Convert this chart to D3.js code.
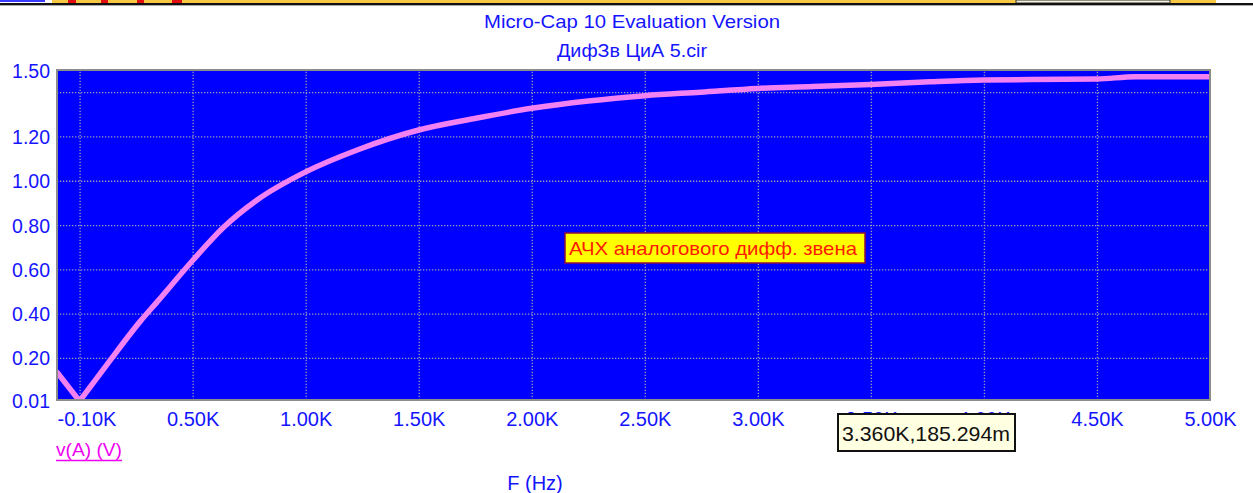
<!DOCTYPE html>
<html>
<head>
<meta charset="utf-8">
<script src="https://cdn.jsdelivr.net/npm/d3@7"></script>
<style>
  html, body { margin: 0; padding: 0; background: #ffffff; }
  svg { display: block; }
  text { font-family: "Liberation Sans", Arial, sans-serif; }
</style>
</head>
<body>
<svg id="chart" width="1253" height="493"></svg>
<script>
// ---- data ----
const freqHz = [-100, 0, 121, 268, 342, 500, 637, 785, 1000, 1228, 1500, 1753, 2000, 2250, 2500, 2747, 3000, 3244, 3500, 3760, 4000, 4500, 4670, 5000];
const magV   = [0.135, 0.005, 0.17, 0.365, 0.452, 0.64, 0.79, 0.913, 1.04, 1.139, 1.229, 1.282, 1.327, 1.36, 1.384, 1.40, 1.417, 1.425, 1.435, 1.447, 1.455, 1.459, 1.47, 1.47];

const xGridValues = [0, 500, 1000, 1500, 2000, 2500, 3000, 3500, 4000, 4500];
const xTickValues = [-100, 500, 1000, 1500, 2000, 2500, 3000, 3500, 4000, 4500, 5000];
const xTickLabels = ["-0.10K", "0.50K", "1.00K", "1.50K", "2.00K", "2.50K", "3.00K", "3.50K", "4.00K", "4.50K", "5.00K"];

const yGridValues = [0.2, 0.4, 0.6, 0.8, 1.0, 1.2, 1.4];
const yTickValues = [1.5, 1.2, 1.0, 0.8, 0.6, 0.4, 0.2, 0.01];
const yTickLabels = ["1.50", "1.20", "1.00", "0.80", "0.60", "0.40", "0.20", "0.01"];

const titleLines = ["Micro-Cap 10 Evaluation Version", "ДифЗв ЦиА 5.cir"];
const annotationText = "АЧХ аналогового дифф. звена";
const cursorText = "3.360K,185.294m";
const seriesLabel = "v(A) (V)";
const xAxisTitle = "F (Hz)";

// ---- layout ----
const svg = d3.select("#chart");
const L = 57, R = 1210, T = 70, B = 400;
const blueText = "#1414ff";

const x = d3.scaleLinear().domain([-100, 5000]).range([L, R]);
const y = d3.scaleLinear().domain([0.01, 1.5]).range([B, T]);

// top toolbar strip (cropped window chrome)
svg.append("rect").attr("x", 52).attr("y", 0).attr("width", 1164).attr("height", 3.5).attr("fill", "#f7c844");
svg.append("rect").attr("x", 1016).attr("y", 0).attr("width", 154).attr("height", 3).attr("fill", "#f4f1dc").attr("stroke", "#333").attr("stroke-width", 1);
[[68, 8], [101, 7], [137, 7], [172, 10]].forEach(([px, w]) =>
  svg.append("rect").attr("x", px).attr("y", 0).attr("width", w).attr("height", 3).attr("fill", "#e01010"));
svg.append("rect").attr("x", 0).attr("y", 0).attr("width", 45).attr("height", 2).attr("fill", "#3a3aff");
svg.append("line").attr("x1", 0).attr("x2", 1253).attr("y1", 4).attr("y2", 4).attr("stroke", "#111").attr("stroke-width", 2);
svg.append("line").attr("x1", 0).attr("x2", 1253).attr("y1", 5.5).attr("y2", 5.5).attr("stroke", "#aaa").attr("stroke-width", 1);

// titles
svg.append("text").attr("x", 632).attr("y", 28).attr("text-anchor", "middle")
  .attr("font-size", 18.5).attr("fill", blueText)
  .attr("textLength", 296).attr("lengthAdjust", "spacingAndGlyphs").text(titleLines[0]);
svg.append("text").attr("x", 632).attr("y", 57).attr("text-anchor", "middle")
  .attr("font-size", 18.5).attr("fill", blueText)
  .attr("textLength", 150).attr("lengthAdjust", "spacingAndGlyphs").text(titleLines[1]);

// plot background
svg.append("rect").attr("x", L).attr("y", T).attr("width", R - L).attr("height", B - T).attr("fill", "#0000ff");

// grid via axes
const gx = svg.append("g").attr("transform", `translate(0,${B})`)
  .call(d3.axisBottom(x).tickValues(xGridValues).tickSize(-(B - T)).tickFormat(""));
gx.select(".domain").remove();
gx.selectAll("line").attr("stroke", "#9a9ab4").attr("stroke-width", 1.3).attr("stroke-dasharray", "1.3,1.7");

const gy = svg.append("g").attr("transform", `translate(${L},0)`)
  .call(d3.axisLeft(y).tickValues(yGridValues).tickSize(-(R - L)).tickFormat(""));
gy.select(".domain").remove();
gy.selectAll("line").attr("stroke", "#9a9ab4").attr("stroke-width", 1.3).attr("stroke-dasharray", "1.3,1.7");

// curve (sharp V at f = 0, smooth elsewhere)
svg.append("clipPath").attr("id", "plotclip").append("rect")
  .attr("x", L).attr("y", T).attr("width", R - L).attr("height", B - T);
const data = freqHz.map((f, i) => ({ f, v: magV[i] }));
const line = d3.line().x(d => x(d.f)).y(d => y(d.v)).curve(d3.curveMonotoneX);
const segments = [data.filter(d => d.f <= 0), data.filter(d => d.f >= 0)];
svg.append("g").attr("clip-path", "url(#plotclip)")
  .selectAll("path").data(segments).join("path")
  .attr("d", line)
  .attr("fill", "none").attr("stroke", "#f282f2").attr("stroke-width", 5.5)
  .attr("stroke-linejoin", "round").attr("stroke-linecap", "round");

// frame
svg.append("rect").attr("x", L).attr("y", T).attr("width", R - L).attr("height", B - T)
  .attr("fill", "none").attr("stroke", "#8c8c8c").attr("stroke-width", 2);

// y tick labels
const ay = svg.append("g").attr("transform", `translate(${L},0)`)
  .call(d3.axisLeft(y).tickValues(yTickValues).tickSize(0).tickPadding(7).tickFormat((d, i) => yTickLabels[i]));
ay.select(".domain").remove();
ay.selectAll("text").attr("font-family", "'Liberation Sans', Arial, sans-serif")
  .attr("font-size", 19.5).attr("fill", blueText).attr("dy", "0.36em");

// x tick labels
const ax = svg.append("g").attr("transform", `translate(0,${B})`)
  .call(d3.axisBottom(x).tickValues(xTickValues).tickSize(0).tickPadding(12).tickFormat((d, i) => xTickLabels[i]));
ax.select(".domain").remove();
ax.selectAll("text").attr("font-family", "'Liberation Sans', Arial, sans-serif")
  .attr("font-size", 20).attr("fill", blueText)
  .attr("text-anchor", (d, i) => i === 0 ? "start" : "middle")
  .attr("x", (d, i) => i === 0 ? -(x(-100) - L) : 0);

// annotation box
const ann = svg.append("g");
ann.append("rect").attr("x", 565).attr("y", 233).attr("width", 300).attr("height", 30)
  .attr("fill", "#ffff00").attr("stroke", "#8a1040").attr("stroke-width", 1.5);
ann.append("text").attr("x", 569).attr("y", 255).attr("font-size", 19).attr("fill", "#ff1a00")
  .attr("textLength", 288).attr("lengthAdjust", "spacingAndGlyphs").text(annotationText);

// series label
svg.append("text").attr("x", 56).attr("y", 456).attr("font-size", 19).attr("fill", "#f000f0")
  .attr("textLength", 66).attr("lengthAdjust", "spacingAndGlyphs").text(seriesLabel);
svg.append("line").attr("x1", 56).attr("x2", 122).attr("y1", 460.5).attr("y2", 460.5)
  .attr("stroke", "#f000f0").attr("stroke-width", 1.5);

// x axis title
svg.append("text").attr("x", 535).attr("y", 490).attr("text-anchor", "middle")
  .attr("font-size", 20).attr("fill", blueText).text(xAxisTitle);

// cursor readout (covers part of the 3.50K / 4.00K labels, as in the reference)
const tip = svg.append("g");
tip.append("rect").attr("x", 838).attr("y", 414).attr("width", 177).attr("height", 37)
  .attr("fill", "#ffffe1").attr("stroke", "#111").attr("stroke-width", 2);
tip.append("text").attr("x", 842).attr("y", 441).attr("font-size", 21).attr("fill", "#111")
  .attr("textLength", 168).attr("lengthAdjust", "spacingAndGlyphs").text(cursorText);
</script>
</body>
</html>
